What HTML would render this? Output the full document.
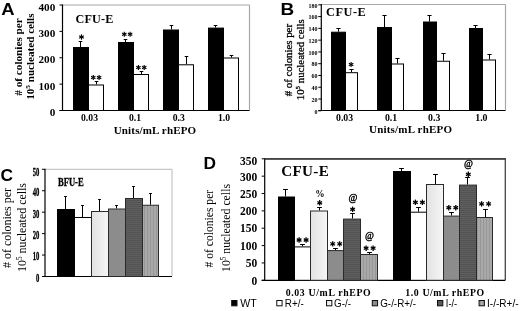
<!DOCTYPE html>
<html><head><meta charset="utf-8"><title>Figure</title>
<style>
html,body{margin:0;padding:0;background:#fff;}
body{width:520px;height:311px;overflow:hidden;font-family:"Liberation Sans",sans-serif;}
svg{display:block;}
</style></head><body>
<svg width="520" height="311" viewBox="0 0 520 311">
<defs>
<linearGradient id="gl" x1="0" y1="0" x2="1" y2="0"><stop offset="0" stop-color="#e2e2e2"/><stop offset="1" stop-color="#f6f6f6"/></linearGradient>
<pattern id="pd" width="4" height="2" patternUnits="userSpaceOnUse"><rect width="4" height="2" fill="#5e5e5e"/><rect y="0" width="4" height="1" fill="#525252"/></pattern>
<pattern id="ps" width="3" height="4" patternUnits="userSpaceOnUse"><rect width="3" height="4" fill="#a9a9a9"/><rect x="0" width="1" height="4" fill="#979797"/></pattern>
<filter id="soft"><feGaussianBlur stdDeviation="0.35"/></filter>
</defs>
<rect width="520" height="311" fill="#fff"/>
<g filter="url(#soft)">

<text transform="translate(1.2,14.5) scale(1.12,1)" font-family="Liberation Sans, sans-serif" font-size="16.5" font-weight="bold" text-anchor="start" fill="#000" >A</text>
<line x1="62.5" y1="5" x2="249.5" y2="5" stroke="#a8a8a8" stroke-width="1.2"/>
<line x1="249.5" y1="5" x2="249.5" y2="110.5" stroke="#a8a8a8" stroke-width="1.2"/>
<line x1="62.5" y1="4.5" x2="62.5" y2="111.0" stroke="#000" stroke-width="1.2"/>
<line x1="59.5" y1="110.5" x2="249.5" y2="110.5" stroke="#000" stroke-width="1.2"/>
<line x1="59.5" y1="110.5" x2="62.5" y2="110.5" stroke="#000" stroke-width="1"/>
<text transform="translate(55.3,116.1) scale(1.12,1)" font-family="Liberation Serif, serif" font-size="10" font-weight="bold" text-anchor="end" fill="#000" >0</text>
<line x1="59.5" y1="84.125" x2="62.5" y2="84.125" stroke="#000" stroke-width="1"/>
<text transform="translate(55.3,89.725) scale(1.12,1)" font-family="Liberation Serif, serif" font-size="10" font-weight="bold" text-anchor="end" fill="#000" >100</text>
<line x1="59.5" y1="57.75" x2="62.5" y2="57.75" stroke="#000" stroke-width="1"/>
<text transform="translate(55.3,63.35) scale(1.12,1)" font-family="Liberation Serif, serif" font-size="10" font-weight="bold" text-anchor="end" fill="#000" >200</text>
<line x1="59.5" y1="31.375" x2="62.5" y2="31.375" stroke="#000" stroke-width="1"/>
<text transform="translate(55.3,36.975) scale(1.12,1)" font-family="Liberation Serif, serif" font-size="10" font-weight="bold" text-anchor="end" fill="#000" >300</text>
<line x1="59.5" y1="5.0" x2="62.5" y2="5.0" stroke="#000" stroke-width="1"/>
<text transform="translate(55.3,10.6) scale(1.12,1)" font-family="Liberation Serif, serif" font-size="10" font-weight="bold" text-anchor="end" fill="#000" >400</text>
<text x="75.5" y="22.5" font-family="Liberation Serif, serif" font-size="12.2" font-weight="bold" text-anchor="start" fill="#000" letter-spacing="0.15" >CFU-E</text>
<line x1="80.5" y1="41.5" x2="80.5" y2="47" stroke="#000" stroke-width="1"/>
<line x1="78.7" y1="41.5" x2="82.3" y2="41.5" stroke="#000" stroke-width="1"/>
<line x1="96.5" y1="81.5" x2="96.5" y2="84.5" stroke="#000" stroke-width="1"/>
<line x1="94.7" y1="81.5" x2="98.3" y2="81.5" stroke="#000" stroke-width="1"/>
<rect x="73.5" y="47.5" width="15.0" height="63.0" fill="#000" stroke="#000" stroke-width="1"/>
<rect x="88.5" y="85.0" width="15.0" height="25.5" fill="#fff" stroke="#000" stroke-width="1"/>
<line x1="125.5" y1="39.5" x2="125.5" y2="42" stroke="#000" stroke-width="1"/>
<line x1="123.7" y1="39.5" x2="127.3" y2="39.5" stroke="#000" stroke-width="1"/>
<line x1="141.5" y1="71.5" x2="141.5" y2="74" stroke="#000" stroke-width="1"/>
<line x1="139.7" y1="71.5" x2="143.3" y2="71.5" stroke="#000" stroke-width="1"/>
<rect x="118.5" y="42.5" width="15.0" height="68.0" fill="#000" stroke="#000" stroke-width="1"/>
<rect x="133.5" y="74.5" width="15.0" height="36.0" fill="#fff" stroke="#000" stroke-width="1"/>
<line x1="171.5" y1="25.5" x2="171.5" y2="29.5" stroke="#000" stroke-width="1"/>
<line x1="169.7" y1="25.5" x2="173.3" y2="25.5" stroke="#000" stroke-width="1"/>
<line x1="186.5" y1="56.5" x2="186.5" y2="64.3" stroke="#000" stroke-width="1"/>
<line x1="184.7" y1="56.5" x2="188.3" y2="56.5" stroke="#000" stroke-width="1"/>
<rect x="163.5" y="30.0" width="15.0" height="80.5" fill="#000" stroke="#000" stroke-width="1"/>
<rect x="178.5" y="64.8" width="15.0" height="45.7" fill="#fff" stroke="#000" stroke-width="1"/>
<line x1="215.5" y1="25.5" x2="215.5" y2="27.6" stroke="#000" stroke-width="1"/>
<line x1="213.7" y1="25.5" x2="217.3" y2="25.5" stroke="#000" stroke-width="1"/>
<line x1="231.5" y1="55.5" x2="231.5" y2="57.5" stroke="#000" stroke-width="1"/>
<line x1="229.7" y1="55.5" x2="233.3" y2="55.5" stroke="#000" stroke-width="1"/>
<rect x="208.5" y="28.1" width="15.0" height="82.4" fill="#000" stroke="#000" stroke-width="1"/>
<rect x="223.5" y="58.0" width="15.0" height="52.5" fill="#fff" stroke="#000" stroke-width="1"/>
<line x1="81.5" y1="34.3" x2="81.5" y2="39.7" stroke="#000" stroke-width="1.15"/>
<line x1="79.16" y1="35.65" x2="83.84" y2="38.35" stroke="#000" stroke-width="1.15"/>
<line x1="83.84" y1="35.65" x2="79.16" y2="38.35" stroke="#000" stroke-width="1.15"/>
<line x1="93.3" y1="74.9" x2="93.3" y2="79.9" stroke="#000" stroke-width="1.15"/>
<line x1="91.13" y1="76.15" x2="95.47" y2="78.65" stroke="#000" stroke-width="1.15"/>
<line x1="95.47" y1="76.15" x2="91.13" y2="78.65" stroke="#000" stroke-width="1.15"/>
<line x1="99.1" y1="74.9" x2="99.1" y2="79.9" stroke="#000" stroke-width="1.15"/>
<line x1="96.93" y1="76.15" x2="101.27" y2="78.65" stroke="#000" stroke-width="1.15"/>
<line x1="101.27" y1="76.15" x2="96.93" y2="78.65" stroke="#000" stroke-width="1.15"/>
<line x1="124.3" y1="31.7" x2="124.3" y2="36.7" stroke="#000" stroke-width="1.15"/>
<line x1="122.13" y1="32.95" x2="126.47" y2="35.45" stroke="#000" stroke-width="1.15"/>
<line x1="126.47" y1="32.95" x2="122.13" y2="35.45" stroke="#000" stroke-width="1.15"/>
<line x1="130.1" y1="31.7" x2="130.1" y2="36.7" stroke="#000" stroke-width="1.15"/>
<line x1="127.93" y1="32.95" x2="132.27" y2="35.45" stroke="#000" stroke-width="1.15"/>
<line x1="132.27" y1="32.95" x2="127.93" y2="35.45" stroke="#000" stroke-width="1.15"/>
<line x1="138.4" y1="64.9" x2="138.4" y2="69.9" stroke="#000" stroke-width="1.15"/>
<line x1="136.23" y1="66.15" x2="140.57" y2="68.65" stroke="#000" stroke-width="1.15"/>
<line x1="140.57" y1="66.15" x2="136.23" y2="68.65" stroke="#000" stroke-width="1.15"/>
<line x1="144.2" y1="64.9" x2="144.2" y2="69.9" stroke="#000" stroke-width="1.15"/>
<line x1="142.03" y1="66.15" x2="146.37" y2="68.65" stroke="#000" stroke-width="1.15"/>
<line x1="146.37" y1="66.15" x2="142.03" y2="68.65" stroke="#000" stroke-width="1.15"/>
<text x="89.5" y="121.4" font-family="Liberation Serif, serif" font-size="9.7" font-weight="bold" text-anchor="middle" fill="#000" >0.03</text>
<text x="135" y="121.4" font-family="Liberation Serif, serif" font-size="9.7" font-weight="bold" text-anchor="middle" fill="#000" >0.1</text>
<text x="178.7" y="121.4" font-family="Liberation Serif, serif" font-size="9.7" font-weight="bold" text-anchor="middle" fill="#000" >0.3</text>
<text x="224" y="121.4" font-family="Liberation Serif, serif" font-size="9.7" font-weight="bold" text-anchor="middle" fill="#000" >1.0</text>
<text x="155" y="134.3" font-family="Liberation Serif, serif" font-size="11" font-weight="bold" text-anchor="middle" fill="#000" letter-spacing="0.15" >Units/mL rhEPO</text>
<text transform="translate(22,95.7) rotate(-90)" font-family="Liberation Serif, serif" font-size="10.6" font-weight="bold" text-anchor="start" textLength="77.4" lengthAdjust="spacingAndGlyphs" fill="#000"># of colonies per</text>
<text transform="translate(33.9,99.8) rotate(-90)" font-family="Liberation Serif, serif" font-size="10.6" font-weight="bold" text-anchor="start" textLength="86.3" lengthAdjust="spacingAndGlyphs" fill="#000">10<tspan font-size="7" dy="-3.5">5</tspan><tspan dy="3.5"> nucleated cells</tspan></text>
<text transform="translate(280.6,14.5) scale(1.15,1)" font-family="Liberation Sans, sans-serif" font-size="16.5" font-weight="bold" text-anchor="start" fill="#000" >B</text>
<line x1="321.3" y1="4.5" x2="505.5" y2="4.5" stroke="#a8a8a8" stroke-width="1.2"/>
<line x1="505.5" y1="4.5" x2="505.5" y2="110.5" stroke="#a8a8a8" stroke-width="1.2"/>
<line x1="321.3" y1="4.0" x2="321.3" y2="111.0" stroke="#000" stroke-width="1.2"/>
<line x1="318.3" y1="110.5" x2="505.5" y2="110.5" stroke="#000" stroke-width="1.2"/>
<line x1="318.3" y1="110.8" x2="321.3" y2="110.8" stroke="#000" stroke-width="1"/>
<text x="317.5" y="113.6" font-family="Liberation Serif, serif" font-size="6" font-weight="bold" text-anchor="end" fill="#000" >0</text>
<line x1="318.3" y1="99.02222222222223" x2="321.3" y2="99.02222222222223" stroke="#000" stroke-width="1"/>
<text x="317.5" y="101.82222222222222" font-family="Liberation Serif, serif" font-size="6" font-weight="bold" text-anchor="end" fill="#000" >20</text>
<line x1="318.3" y1="87.24444444444444" x2="321.3" y2="87.24444444444444" stroke="#000" stroke-width="1"/>
<text x="317.5" y="90.04444444444444" font-family="Liberation Serif, serif" font-size="6" font-weight="bold" text-anchor="end" fill="#000" >40</text>
<line x1="318.3" y1="75.46666666666665" x2="321.3" y2="75.46666666666665" stroke="#000" stroke-width="1"/>
<text x="317.5" y="78.26666666666665" font-family="Liberation Serif, serif" font-size="6" font-weight="bold" text-anchor="end" fill="#000" >60</text>
<line x1="318.3" y1="63.68888888888888" x2="321.3" y2="63.68888888888888" stroke="#000" stroke-width="1"/>
<text x="317.5" y="66.48888888888888" font-family="Liberation Serif, serif" font-size="6" font-weight="bold" text-anchor="end" fill="#000" >80</text>
<line x1="318.3" y1="51.91111111111111" x2="321.3" y2="51.91111111111111" stroke="#000" stroke-width="1"/>
<text x="317.5" y="54.711111111111116" font-family="Liberation Serif, serif" font-size="6" font-weight="bold" text-anchor="end" fill="#000" >100</text>
<line x1="318.3" y1="40.133333333333326" x2="321.3" y2="40.133333333333326" stroke="#000" stroke-width="1"/>
<text x="317.5" y="42.93333333333333" font-family="Liberation Serif, serif" font-size="6" font-weight="bold" text-anchor="end" fill="#000" >120</text>
<line x1="318.3" y1="28.355555555555558" x2="321.3" y2="28.355555555555558" stroke="#000" stroke-width="1"/>
<text x="317.5" y="31.15555555555556" font-family="Liberation Serif, serif" font-size="6" font-weight="bold" text-anchor="end" fill="#000" >140</text>
<line x1="318.3" y1="16.577777777777772" x2="321.3" y2="16.577777777777772" stroke="#000" stroke-width="1"/>
<text x="317.5" y="19.377777777777773" font-family="Liberation Serif, serif" font-size="6" font-weight="bold" text-anchor="end" fill="#000" >160</text>
<line x1="318.3" y1="4.8" x2="321.3" y2="4.8" stroke="#000" stroke-width="1"/>
<text x="317.5" y="7.6" font-family="Liberation Serif, serif" font-size="6" font-weight="bold" text-anchor="end" fill="#000" >180</text>
<text x="326" y="15.8" font-family="Liberation Serif, serif" font-size="12.3" font-weight="bold" text-anchor="start" fill="#000" letter-spacing="0.55" >CFU-E</text>
<line x1="338.5" y1="28.5" x2="338.5" y2="31.7" stroke="#000" stroke-width="1"/>
<line x1="336.4" y1="28.5" x2="340.6" y2="28.5" stroke="#000" stroke-width="1"/>
<line x1="351.5" y1="69.5" x2="351.5" y2="72.2" stroke="#000" stroke-width="1"/>
<line x1="349.4" y1="69.5" x2="353.6" y2="69.5" stroke="#000" stroke-width="1"/>
<rect x="331.5" y="32.2" width="14.0" height="78.3" fill="#000" stroke="#000" stroke-width="1"/>
<rect x="345.5" y="72.7" width="12.0" height="37.8" fill="#fff" stroke="#000" stroke-width="1"/>
<line x1="384.5" y1="15.5" x2="384.5" y2="27" stroke="#000" stroke-width="1"/>
<line x1="382.4" y1="15.5" x2="386.6" y2="15.5" stroke="#000" stroke-width="1"/>
<line x1="397.5" y1="58.5" x2="397.5" y2="63.5" stroke="#000" stroke-width="1"/>
<line x1="395.4" y1="58.5" x2="399.6" y2="58.5" stroke="#000" stroke-width="1"/>
<rect x="377.5" y="27.5" width="14.0" height="83.0" fill="#000" stroke="#000" stroke-width="1"/>
<rect x="391.5" y="64.0" width="12.0" height="46.5" fill="#fff" stroke="#000" stroke-width="1"/>
<line x1="429.5" y1="15.5" x2="429.5" y2="21.5" stroke="#000" stroke-width="1"/>
<line x1="427.4" y1="15.5" x2="431.6" y2="15.5" stroke="#000" stroke-width="1"/>
<line x1="443.5" y1="53.5" x2="443.5" y2="60.75" stroke="#000" stroke-width="1"/>
<line x1="441.4" y1="53.5" x2="445.6" y2="53.5" stroke="#000" stroke-width="1"/>
<rect x="423.5" y="22.0" width="13.0" height="88.5" fill="#000" stroke="#000" stroke-width="1"/>
<rect x="436.5" y="61.25" width="13.0" height="49.25" fill="#fff" stroke="#000" stroke-width="1"/>
<line x1="475.5" y1="25.5" x2="475.5" y2="28" stroke="#000" stroke-width="1"/>
<line x1="473.4" y1="25.5" x2="477.6" y2="25.5" stroke="#000" stroke-width="1"/>
<line x1="489.5" y1="54.5" x2="489.5" y2="59.5" stroke="#000" stroke-width="1"/>
<line x1="487.4" y1="54.5" x2="491.6" y2="54.5" stroke="#000" stroke-width="1"/>
<rect x="469.5" y="28.5" width="13.0" height="82.0" fill="#000" stroke="#000" stroke-width="1"/>
<rect x="482.5" y="60.0" width="13.0" height="50.5" fill="#fff" stroke="#000" stroke-width="1"/>
<line x1="351.1" y1="61.9" x2="351.1" y2="67.1" stroke="#000" stroke-width="1.15"/>
<line x1="348.85" y1="63.2" x2="353.35" y2="65.8" stroke="#000" stroke-width="1.15"/>
<line x1="353.35" y1="63.2" x2="348.85" y2="65.8" stroke="#000" stroke-width="1.15"/>
<text x="344.6" y="121.3" font-family="Liberation Serif, serif" font-size="9.8" font-weight="bold" text-anchor="middle" fill="#000" >0.03</text>
<text x="391" y="121.3" font-family="Liberation Serif, serif" font-size="9.8" font-weight="bold" text-anchor="middle" fill="#000" >0.1</text>
<text x="434.2" y="121.3" font-family="Liberation Serif, serif" font-size="9.8" font-weight="bold" text-anchor="middle" fill="#000" >0.3</text>
<text x="481.4" y="121.3" font-family="Liberation Serif, serif" font-size="9.8" font-weight="bold" text-anchor="middle" fill="#000" >1.0</text>
<text x="410.6" y="133.3" font-family="Liberation Serif, serif" font-size="11" font-weight="bold" text-anchor="middle" fill="#000" letter-spacing="0.2" >Units/mL rhEPO</text>
<text transform="translate(292,96.3) rotate(-90)" font-family="Liberation Serif, serif" font-size="11" font-weight="normal" text-anchor="start" textLength="72.3" lengthAdjust="spacingAndGlyphs" fill="#000" stroke="#000" stroke-width="0.3"># of colonies per</text>
<text transform="translate(304,100.2) rotate(-90)" font-family="Liberation Serif, serif" font-size="11" font-weight="normal" text-anchor="start" textLength="80.9" lengthAdjust="spacingAndGlyphs" fill="#000" stroke="#000" stroke-width="0.3">10<tspan font-size="7" dy="-3.6">5</tspan><tspan dy="3.6"> nucleated cells</tspan></text>
<text transform="translate(0.5,180.5) scale(1.05,1)" font-family="Liberation Sans, sans-serif" font-size="16.5" font-weight="bold" text-anchor="start" fill="#000" >C</text>
<line x1="45.0" y1="169.3" x2="172" y2="169.3" stroke="#b8b8b8" stroke-width="1"/>
<line x1="172" y1="169.3" x2="172" y2="276.5" stroke="#b8b8b8" stroke-width="1"/>
<line x1="45.0" y1="168.8" x2="45.0" y2="277.0" stroke="#000" stroke-width="1.2"/>
<line x1="42.0" y1="276.5" x2="172" y2="276.5" stroke="#000" stroke-width="1.2"/>
<line x1="42.0" y1="276.5" x2="45.0" y2="276.5" stroke="#000" stroke-width="1"/>
<text transform="translate(39.3,281.9) scale(0.53,1)" font-family="Liberation Serif, serif" font-size="12.5" font-weight="bold" text-anchor="end" fill="#000" stroke="#000" stroke-width="0.35">0</text>
<line x1="42.0" y1="255.06" x2="45.0" y2="255.06" stroke="#000" stroke-width="1"/>
<text transform="translate(39.3,260.46) scale(0.53,1)" font-family="Liberation Serif, serif" font-size="12.5" font-weight="bold" text-anchor="end" fill="#000" stroke="#000" stroke-width="0.35">10</text>
<line x1="42.0" y1="233.62" x2="45.0" y2="233.62" stroke="#000" stroke-width="1"/>
<text transform="translate(39.3,239.02) scale(0.53,1)" font-family="Liberation Serif, serif" font-size="12.5" font-weight="bold" text-anchor="end" fill="#000" stroke="#000" stroke-width="0.35">20</text>
<line x1="42.0" y1="212.18" x2="45.0" y2="212.18" stroke="#000" stroke-width="1"/>
<text transform="translate(39.3,217.58) scale(0.53,1)" font-family="Liberation Serif, serif" font-size="12.5" font-weight="bold" text-anchor="end" fill="#000" stroke="#000" stroke-width="0.35">30</text>
<line x1="42.0" y1="190.74" x2="45.0" y2="190.74" stroke="#000" stroke-width="1"/>
<text transform="translate(39.3,196.14000000000001) scale(0.53,1)" font-family="Liberation Serif, serif" font-size="12.5" font-weight="bold" text-anchor="end" fill="#000" stroke="#000" stroke-width="0.35">40</text>
<line x1="42.0" y1="169.3" x2="45.0" y2="169.3" stroke="#000" stroke-width="1"/>
<text transform="translate(39.3,176.3) scale(0.53,1)" font-family="Liberation Serif, serif" font-size="12.5" font-weight="bold" text-anchor="end" fill="#000" stroke="#000" stroke-width="0.35">50</text>
<text transform="translate(57.9,185.6) scale(0.73,1)" font-family="Liberation Serif, serif" font-size="11.8" font-weight="bold" text-anchor="start" fill="#000" stroke="#000" stroke-width="0.3">BFU-E</text>
<line x1="65.5" y1="196.5" x2="65.5" y2="209" stroke="#000" stroke-width="1"/>
<line x1="64.1" y1="196.5" x2="66.9" y2="196.5" stroke="#000" stroke-width="1"/>
<line x1="82.5" y1="205.5" x2="82.5" y2="217" stroke="#000" stroke-width="1"/>
<line x1="81.1" y1="205.5" x2="83.9" y2="205.5" stroke="#000" stroke-width="1"/>
<line x1="99.5" y1="199.5" x2="99.5" y2="211" stroke="#000" stroke-width="1"/>
<line x1="98.1" y1="199.5" x2="100.9" y2="199.5" stroke="#000" stroke-width="1"/>
<line x1="116.5" y1="205.5" x2="116.5" y2="208.5" stroke="#000" stroke-width="1"/>
<line x1="115.1" y1="205.5" x2="117.9" y2="205.5" stroke="#000" stroke-width="1"/>
<line x1="133.5" y1="186.5" x2="133.5" y2="198" stroke="#000" stroke-width="1"/>
<line x1="132.1" y1="186.5" x2="134.9" y2="186.5" stroke="#000" stroke-width="1"/>
<line x1="150.5" y1="193.5" x2="150.5" y2="204.75" stroke="#000" stroke-width="1"/>
<line x1="149.1" y1="193.5" x2="151.9" y2="193.5" stroke="#000" stroke-width="1"/>
<rect x="57.5" y="209.5" width="17.0" height="67.0" fill="#000" stroke="#000" stroke-width="1"/>
<rect x="74.5" y="217.5" width="17.0" height="59.0" fill="#fff" stroke="#000" stroke-width="1"/>
<rect x="91.5" y="211.5" width="17.0" height="65.0" fill="url(#gl)" stroke="#2a2a2a" stroke-width="1"/>
<rect x="108.5" y="209.0" width="17.0" height="67.5" fill="#8c8c8c" stroke="#2a2a2a" stroke-width="1"/>
<rect x="125.5" y="198.5" width="17.0" height="78.0" fill="url(#pd)" stroke="#2a2a2a" stroke-width="1"/>
<rect x="142.5" y="205.25" width="16.0" height="71.25" fill="url(#ps)" stroke="#2a2a2a" stroke-width="1"/>
<text transform="translate(11,268) rotate(-90)" font-family="Liberation Serif, serif" font-size="12.4" font-weight="normal" text-anchor="start" textLength="80" lengthAdjust="spacingAndGlyphs" fill="#000"># of colonies per</text>
<text transform="translate(26.2,272) rotate(-90)" font-family="Liberation Serif, serif" font-size="12.4" font-weight="normal" text-anchor="start" textLength="89" lengthAdjust="spacingAndGlyphs" fill="#000">10<tspan font-size="7.5" dy="-4">5</tspan><tspan dy="4"> nucleated cells</tspan></text>
<text transform="translate(203.6,169.2) scale(1.05,1)" font-family="Liberation Sans, sans-serif" font-size="16.5" font-weight="bold" text-anchor="start" fill="#000" >D</text>
<line x1="264.7" y1="158.8" x2="505.3" y2="158.8" stroke="#444" stroke-width="1.3"/>
<line x1="505.3" y1="158.8" x2="505.3" y2="280.3" stroke="#444" stroke-width="1.3"/>
<line x1="264.7" y1="158.3" x2="264.7" y2="280.8" stroke="#000" stroke-width="1.2"/>
<line x1="261.7" y1="280.3" x2="505.3" y2="280.3" stroke="#000" stroke-width="1.2"/>
<line x1="264.7" y1="158.8" x2="505.90000000000003" y2="158.8" stroke="#444" stroke-width="1.7"/>
<line x1="261.7" y1="280.3" x2="264.7" y2="280.3" stroke="#000" stroke-width="1"/>
<text x="257.3" y="284.5" font-family="Liberation Serif, serif" font-size="11.5" font-weight="bold" text-anchor="end" fill="#000" >0</text>
<line x1="261.7" y1="262.9428571428572" x2="264.7" y2="262.9428571428572" stroke="#000" stroke-width="1"/>
<text x="257.3" y="267.14285714285717" font-family="Liberation Serif, serif" font-size="11.5" font-weight="bold" text-anchor="end" fill="#000" >50</text>
<line x1="261.7" y1="245.5857142857143" x2="264.7" y2="245.5857142857143" stroke="#000" stroke-width="1"/>
<text x="257.3" y="249.78571428571428" font-family="Liberation Serif, serif" font-size="11.5" font-weight="bold" text-anchor="end" fill="#000" >100</text>
<line x1="261.7" y1="228.22857142857146" x2="264.7" y2="228.22857142857146" stroke="#000" stroke-width="1"/>
<text x="257.3" y="232.42857142857144" font-family="Liberation Serif, serif" font-size="11.5" font-weight="bold" text-anchor="end" fill="#000" >150</text>
<line x1="261.7" y1="210.87142857142857" x2="264.7" y2="210.87142857142857" stroke="#000" stroke-width="1"/>
<text x="257.3" y="215.44642857142856" font-family="Liberation Serif, serif" font-size="11.5" font-weight="bold" text-anchor="end" fill="#000" >200</text>
<line x1="261.7" y1="193.51428571428573" x2="264.7" y2="193.51428571428573" stroke="#000" stroke-width="1"/>
<text x="257.3" y="198.46428571428572" font-family="Liberation Serif, serif" font-size="11.5" font-weight="bold" text-anchor="end" fill="#000" >250</text>
<line x1="261.7" y1="176.15714285714287" x2="264.7" y2="176.15714285714287" stroke="#000" stroke-width="1"/>
<text x="257.3" y="181.48214285714286" font-family="Liberation Serif, serif" font-size="11.5" font-weight="bold" text-anchor="end" fill="#000" >300</text>
<line x1="261.7" y1="158.8" x2="264.7" y2="158.8" stroke="#000" stroke-width="1"/>
<text x="257.3" y="164.5" font-family="Liberation Serif, serif" font-size="11.5" font-weight="bold" text-anchor="end" fill="#000" >350</text>
<text transform="translate(281.3,176.4) scale(1.08,1)" font-family="Liberation Serif, serif" font-size="14" font-weight="bold" text-anchor="start" fill="#000" letter-spacing="0.3" >CFU-E</text>
<line x1="285.5" y1="189.5" x2="285.5" y2="196.5" stroke="#000" stroke-width="1"/>
<line x1="283.1" y1="189.5" x2="287.9" y2="189.5" stroke="#000" stroke-width="1"/>
<line x1="302.5" y1="244.5" x2="302.5" y2="246.4" stroke="#000" stroke-width="1"/>
<line x1="300.1" y1="244.5" x2="304.9" y2="244.5" stroke="#000" stroke-width="1"/>
<line x1="319.5" y1="207.5" x2="319.5" y2="210.5" stroke="#000" stroke-width="1"/>
<line x1="317.1" y1="207.5" x2="321.9" y2="207.5" stroke="#000" stroke-width="1"/>
<line x1="335.5" y1="248.5" x2="335.5" y2="250.1" stroke="#000" stroke-width="1"/>
<line x1="333.1" y1="248.5" x2="337.9" y2="248.5" stroke="#000" stroke-width="1"/>
<line x1="352.5" y1="213.5" x2="352.5" y2="218.6" stroke="#000" stroke-width="1"/>
<line x1="350.1" y1="213.5" x2="354.9" y2="213.5" stroke="#000" stroke-width="1"/>
<line x1="369.5" y1="252.5" x2="369.5" y2="254" stroke="#000" stroke-width="1"/>
<line x1="367.1" y1="252.5" x2="371.9" y2="252.5" stroke="#000" stroke-width="1"/>
<rect x="278.5" y="197.0" width="16.0" height="83.3" fill="#000" stroke="#000" stroke-width="1"/>
<rect x="294.5" y="246.9" width="16.0" height="33.4" fill="#fff" stroke="#000" stroke-width="1"/>
<rect x="310.5" y="211.0" width="17.0" height="69.3" fill="url(#gl)" stroke="#2a2a2a" stroke-width="1"/>
<rect x="327.5" y="250.6" width="16.0" height="29.7" fill="#8c8c8c" stroke="#2a2a2a" stroke-width="1"/>
<rect x="343.5" y="219.1" width="17.0" height="61.2" fill="url(#pd)" stroke="#2a2a2a" stroke-width="1"/>
<rect x="360.5" y="254.5" width="17.0" height="25.8" fill="url(#ps)" stroke="#2a2a2a" stroke-width="1"/>
<line x1="401.5" y1="168.5" x2="401.5" y2="171" stroke="#000" stroke-width="1"/>
<line x1="399.1" y1="168.5" x2="403.9" y2="168.5" stroke="#000" stroke-width="1"/>
<line x1="418.5" y1="207.5" x2="418.5" y2="211.7" stroke="#000" stroke-width="1"/>
<line x1="416.1" y1="207.5" x2="420.9" y2="207.5" stroke="#000" stroke-width="1"/>
<line x1="435.5" y1="174.5" x2="435.5" y2="184" stroke="#000" stroke-width="1"/>
<line x1="433.1" y1="174.5" x2="437.9" y2="174.5" stroke="#000" stroke-width="1"/>
<line x1="451.5" y1="212.5" x2="451.5" y2="215.6" stroke="#000" stroke-width="1"/>
<line x1="449.1" y1="212.5" x2="453.9" y2="212.5" stroke="#000" stroke-width="1"/>
<line x1="467.5" y1="177.5" x2="467.5" y2="184.6" stroke="#000" stroke-width="1"/>
<line x1="465.1" y1="177.5" x2="469.9" y2="177.5" stroke="#000" stroke-width="1"/>
<line x1="485.5" y1="209.5" x2="485.5" y2="217" stroke="#000" stroke-width="1"/>
<line x1="483.1" y1="209.5" x2="487.9" y2="209.5" stroke="#000" stroke-width="1"/>
<rect x="393.5" y="171.5" width="17.0" height="108.8" fill="#000" stroke="#000" stroke-width="1"/>
<rect x="410.5" y="212.2" width="16.0" height="68.1" fill="#fff" stroke="#000" stroke-width="1"/>
<rect x="426.5" y="184.5" width="17.0" height="95.8" fill="url(#gl)" stroke="#2a2a2a" stroke-width="1"/>
<rect x="443.5" y="216.1" width="16.0" height="64.2" fill="#8c8c8c" stroke="#2a2a2a" stroke-width="1"/>
<rect x="459.5" y="185.1" width="17.0" height="95.2" fill="url(#pd)" stroke="#2a2a2a" stroke-width="1"/>
<rect x="476.5" y="217.5" width="16.0" height="62.8" fill="url(#ps)" stroke="#2a2a2a" stroke-width="1"/>
<line x1="299.1" y1="237.3" x2="299.1" y2="242.7" stroke="#000" stroke-width="1.3"/>
<line x1="296.76" y1="238.65" x2="301.44" y2="241.35" stroke="#000" stroke-width="1.3"/>
<line x1="301.44" y1="238.65" x2="296.76" y2="241.35" stroke="#000" stroke-width="1.3"/>
<line x1="306.1" y1="237.3" x2="306.1" y2="242.7" stroke="#000" stroke-width="1.3"/>
<line x1="303.76" y1="238.65" x2="308.44" y2="241.35" stroke="#000" stroke-width="1.3"/>
<line x1="308.44" y1="238.65" x2="303.76" y2="241.35" stroke="#000" stroke-width="1.3"/>
<line x1="332.7" y1="241.2" x2="332.7" y2="246.6" stroke="#000" stroke-width="1.3"/>
<line x1="330.36" y1="242.55" x2="335.04" y2="245.25" stroke="#000" stroke-width="1.3"/>
<line x1="335.04" y1="242.55" x2="330.36" y2="245.25" stroke="#000" stroke-width="1.3"/>
<line x1="339.7" y1="241.2" x2="339.7" y2="246.6" stroke="#000" stroke-width="1.3"/>
<line x1="337.36" y1="242.55" x2="342.04" y2="245.25" stroke="#000" stroke-width="1.3"/>
<line x1="342.04" y1="242.55" x2="337.36" y2="245.25" stroke="#000" stroke-width="1.3"/>
<line x1="366.1" y1="245.5" x2="366.1" y2="250.9" stroke="#000" stroke-width="1.3"/>
<line x1="363.76" y1="246.85" x2="368.44" y2="249.55" stroke="#000" stroke-width="1.3"/>
<line x1="368.44" y1="246.85" x2="363.76" y2="249.55" stroke="#000" stroke-width="1.3"/>
<line x1="373.1" y1="245.5" x2="373.1" y2="250.9" stroke="#000" stroke-width="1.3"/>
<line x1="370.76" y1="246.85" x2="375.44" y2="249.55" stroke="#000" stroke-width="1.3"/>
<line x1="375.44" y1="246.85" x2="370.76" y2="249.55" stroke="#000" stroke-width="1.3"/>
<line x1="319.7" y1="200.1" x2="319.7" y2="205.5" stroke="#000" stroke-width="1.3"/>
<line x1="317.36" y1="201.45" x2="322.04" y2="204.15" stroke="#000" stroke-width="1.3"/>
<line x1="322.04" y1="201.45" x2="317.36" y2="204.15" stroke="#000" stroke-width="1.3"/>
<line x1="352.6" y1="206.6" x2="352.6" y2="212.0" stroke="#000" stroke-width="1.3"/>
<line x1="350.26" y1="207.95" x2="354.94" y2="210.65" stroke="#000" stroke-width="1.3"/>
<line x1="354.94" y1="207.95" x2="350.26" y2="210.65" stroke="#000" stroke-width="1.3"/>
<line x1="415.4" y1="199.6" x2="415.4" y2="205.0" stroke="#000" stroke-width="1.3"/>
<line x1="413.06" y1="200.95" x2="417.74" y2="203.65" stroke="#000" stroke-width="1.3"/>
<line x1="417.74" y1="200.95" x2="413.06" y2="203.65" stroke="#000" stroke-width="1.3"/>
<line x1="422.4" y1="199.6" x2="422.4" y2="205.0" stroke="#000" stroke-width="1.3"/>
<line x1="420.06" y1="200.95" x2="424.74" y2="203.65" stroke="#000" stroke-width="1.3"/>
<line x1="424.74" y1="200.95" x2="420.06" y2="203.65" stroke="#000" stroke-width="1.3"/>
<line x1="448.8" y1="205.0" x2="448.8" y2="210.4" stroke="#000" stroke-width="1.3"/>
<line x1="446.46" y1="206.35" x2="451.14" y2="209.05" stroke="#000" stroke-width="1.3"/>
<line x1="451.14" y1="206.35" x2="446.46" y2="209.05" stroke="#000" stroke-width="1.3"/>
<line x1="455.8" y1="205.0" x2="455.8" y2="210.4" stroke="#000" stroke-width="1.3"/>
<line x1="453.46" y1="206.35" x2="458.14" y2="209.05" stroke="#000" stroke-width="1.3"/>
<line x1="458.14" y1="206.35" x2="453.46" y2="209.05" stroke="#000" stroke-width="1.3"/>
<line x1="481.6" y1="201.2" x2="481.6" y2="206.6" stroke="#000" stroke-width="1.3"/>
<line x1="479.26" y1="202.55" x2="483.94" y2="205.25" stroke="#000" stroke-width="1.3"/>
<line x1="483.94" y1="202.55" x2="479.26" y2="205.25" stroke="#000" stroke-width="1.3"/>
<line x1="488.6" y1="201.2" x2="488.6" y2="206.6" stroke="#000" stroke-width="1.3"/>
<line x1="486.26" y1="202.55" x2="490.94" y2="205.25" stroke="#000" stroke-width="1.3"/>
<line x1="490.94" y1="202.55" x2="486.26" y2="205.25" stroke="#000" stroke-width="1.3"/>
<line x1="468.3" y1="171.6" x2="468.3" y2="177.0" stroke="#000" stroke-width="1.3"/>
<line x1="465.96" y1="172.95" x2="470.64" y2="175.65" stroke="#000" stroke-width="1.3"/>
<line x1="470.64" y1="172.95" x2="465.96" y2="175.65" stroke="#000" stroke-width="1.3"/>
<text x="369.4" y="238.6" font-family="Liberation Serif, serif" font-size="9.6" font-weight="normal" text-anchor="middle" fill="#000" font-style="italic" stroke="#000" stroke-width="0.4">@</text>
<text x="353" y="200.8" font-family="Liberation Serif, serif" font-size="9.6" font-weight="normal" text-anchor="middle" fill="#000" font-style="italic" stroke="#000" stroke-width="0.4">@</text>
<text x="468.4" y="166.8" font-family="Liberation Serif, serif" font-size="9.6" font-weight="normal" text-anchor="middle" fill="#000" font-style="italic" stroke="#000" stroke-width="0.4">@</text>
<text x="319.8" y="196.8" font-family="Liberation Serif, serif" font-size="9.3" font-weight="bold" text-anchor="middle" fill="#000" >%</text>
<text x="328.5" y="295.9" font-family="Liberation Serif, serif" font-size="9.8" font-weight="bold" text-anchor="middle" fill="#000" letter-spacing="0.65" >0.03 U/mL rhEPO</text>
<text x="445" y="295.9" font-family="Liberation Serif, serif" font-size="9.8" font-weight="bold" text-anchor="middle" fill="#000" letter-spacing="0.6" >1.0 U/mL rhEPO</text>
<text transform="translate(212.6,267.5) rotate(-90)" font-family="Liberation Serif, serif" font-size="12.4" font-weight="normal" text-anchor="start" textLength="77.69999999999999" lengthAdjust="spacingAndGlyphs" fill="#000"># of colonies per</text>
<text transform="translate(230,272) rotate(-90)" font-family="Liberation Serif, serif" font-size="12.4" font-weight="normal" text-anchor="start" textLength="88" lengthAdjust="spacingAndGlyphs" fill="#000">10<tspan font-size="7.5" dy="-4">5</tspan><tspan dy="4"> nucleated cells</tspan></text>
<rect x="231.7" y="300.5" width="5.3" height="5.3" fill="#000" stroke="#111" stroke-width="1"/>
<text x="240.2" y="306.7" font-family="Liberation Sans, sans-serif" font-size="10.6" font-weight="normal" text-anchor="start" fill="#000" >WT</text>
<rect x="276.8" y="300.5" width="5.3" height="5.3" fill="#fff" stroke="#111" stroke-width="1"/>
<text transform="translate(284.8,306.7) scale(0.93,1)" font-family="Liberation Sans, sans-serif" font-size="10.6" font-weight="normal" text-anchor="start" fill="#000" >R+/-</text>
<rect x="326.5" y="300.5" width="5.3" height="5.3" fill="url(#gl)" stroke="#111" stroke-width="1"/>
<text transform="translate(334,306.7) scale(0.93,1)" font-family="Liberation Sans, sans-serif" font-size="10.6" font-weight="normal" text-anchor="start" fill="#000" >G-/-</text>
<rect x="372.3" y="300.5" width="5.3" height="5.3" fill="#8c8c8c" stroke="#111" stroke-width="1"/>
<text transform="translate(380.2,306.7) scale(0.93,1)" font-family="Liberation Sans, sans-serif" font-size="10.6" font-weight="normal" text-anchor="start" fill="#000" >G-/-R+/-</text>
<rect x="437.5" y="300.5" width="5.3" height="5.3" fill="url(#pd)" stroke="#111" stroke-width="1"/>
<text transform="translate(445.8,306.7) scale(0.88,1)" font-family="Liberation Sans, sans-serif" font-size="10.6" font-weight="normal" text-anchor="start" fill="#000" >I-/-</text>
<rect x="479.1" y="300.5" width="5.3" height="5.3" fill="url(#ps)" stroke="#111" stroke-width="1"/>
<text transform="translate(487,306.7) scale(0.95,1)" font-family="Liberation Sans, sans-serif" font-size="10.6" font-weight="normal" text-anchor="start" fill="#000" >I-/-R+/-</text>
</g></svg></body></html>
